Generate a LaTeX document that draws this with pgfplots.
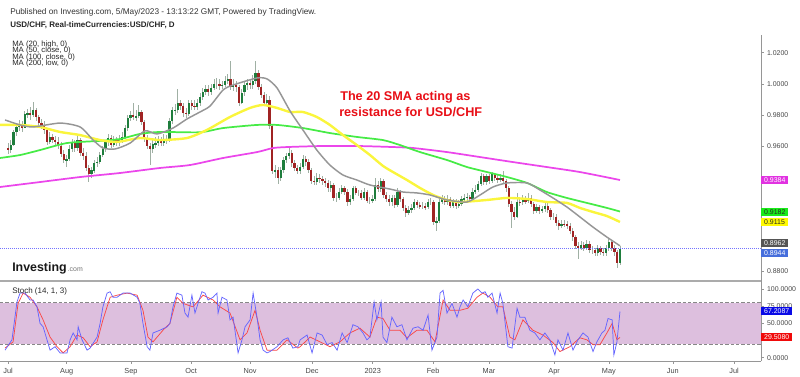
\documentclass[border=0pt]{standalone}
\usepackage{pgfplots}
\pgfplotsset{compat=1.18}
\usepackage{pgfplotstable}
\usepackage{fontspec}
\setmainfont{Liberation Sans}
\definecolor{upg}{RGB}{30,125,60}
\definecolor{dnr}{RGB}{160,35,35}
\definecolor{wick}{RGB}{160,176,164}
\definecolor{maGray}{RGB}{150,150,150}
\definecolor{maYel}{RGB}{250,245,60}
\definecolor{maGrn}{RGB}{70,235,70}
\definecolor{maMag}{RGB}{235,70,235}
\definecolor{band}{RGB}{221,191,222}
\definecolor{kblue}{RGB}{100,100,255}
\definecolor{dred}{RGB}{250,70,70}
\definecolor{anno}{RGB}{232,14,22}
\definecolor{axgray}{RGB}{150,150,150}
\definecolor{txtgray}{RGB}{70,70,70}

\pgfplotstableread{
x o h l c
0 0.9590 0.9620 0.9550 0.9575
1 0.9575 0.9640 0.9560 0.9610
2 0.9610 0.9705 0.9600 0.9690
3 0.9690 0.9745 0.9665 0.9725
4 0.9725 0.9770 0.9700 0.9745
5 0.9745 0.9765 0.9695 0.9720
6 0.9720 0.9825 0.9715 0.9805
7 0.9805 0.9840 0.9780 0.9815
8 0.9815 0.9850 0.9770 0.9800
9 0.9800 0.9886 0.9785 0.9830
10 0.9830 0.9845 0.9765 0.9785
11 0.9785 0.9800 0.9725 0.9750
12 0.9750 0.9775 0.9710 0.9735
13 0.9735 0.9760 0.9680 0.9705
14 0.9705 0.9720 0.9610 0.9630
15 0.9630 0.9690 0.9615 0.9660
16 0.9660 0.9680 0.9620 0.9640
17 0.9640 0.9665 0.9605 0.9630
18 0.9630 0.9660 0.9580 0.9600
19 0.9600 0.9625 0.9530 0.9550
20 0.9550 0.9575 0.9495 0.9510
21 0.9510 0.9545 0.9470 0.9520
22 0.9520 0.9610 0.9505 0.9585
23 0.9585 0.9650 0.9565 0.9620
24 0.9620 0.9640 0.9565 0.9590
25 0.9590 0.9665 0.9570 0.9640
26 0.9640 0.9655 0.9540 0.9560
27 0.9560 0.9590 0.9515 0.9540
28 0.9540 0.9565 0.9440 0.9460
29 0.9460 0.9480 0.9370 0.9425
30 0.9425 0.9470 0.9400 0.9445
31 0.9445 0.9510 0.9430 0.9495
32 0.9495 0.9530 0.9470 0.9500
33 0.9500 0.9565 0.9485 0.9545
34 0.9545 0.9600 0.9530 0.9580
35 0.9580 0.9640 0.9565 0.9625
36 0.9625 0.9680 0.9605 0.9655
37 0.9655 0.9670 0.9590 0.9610
38 0.9610 0.9665 0.9595 0.9645
39 0.9645 0.9660 0.9600 0.9620
40 0.9620 0.9675 0.9605 0.9640
41 0.9640 0.9690 0.9620 0.9660
42 0.9660 0.9735 0.9645 0.9715
43 0.9715 0.9800 0.9700 0.9780
44 0.9780 0.9825 0.9760 0.9800
45 0.9800 0.9880 0.9770 0.9785
46 0.9785 0.9830 0.9760 0.9795
47 0.9795 0.9866 0.9780 0.9820
48 0.9820 0.9835 0.9735 0.9755
49 0.9755 0.9770 0.9625 0.9650
50 0.9650 0.9670 0.9580 0.9600
51 0.9600 0.9620 0.9480 0.9580
52 0.9580 0.9640 0.9555 0.9615
53 0.9615 0.9660 0.9590 0.9620
54 0.9620 0.9665 0.9605 0.9640
55 0.9640 0.9660 0.9600 0.9620
56 0.9620 0.9680 0.9605 0.9650
57 0.9650 0.9670 0.9615 0.9640
58 0.9640 0.9780 0.9630 0.9760
59 0.9760 0.9850 0.9740 0.9830
60 0.9830 0.9870 0.9800 0.9835
61 0.9835 0.9966 0.9815 0.9875
62 0.9875 0.9900 0.9830 0.9860
63 0.9860 0.9880 0.9790 0.9815
64 0.9815 0.9845 0.9780 0.9810
65 0.9810 0.9895 0.9795 0.9875
66 0.9875 0.9900 0.9835 0.9860
67 0.9860 0.9895 0.9830 0.9855
68 0.9855 0.9905 0.9835 0.9880
69 0.9880 0.9940 0.9860 0.9915
70 0.9915 0.9975 0.9900 0.9950
71 0.9950 0.9990 0.9930 0.9965
72 0.9965 0.9995 0.9925 0.9950
73 0.9950 1.0000 0.9930 0.9975
74 0.9975 1.0030 0.9960 1.0000
75 1.0000 1.0040 0.9970 1.0000
76 1.0000 1.0030 0.9960 0.9985
77 0.9985 1.0020 0.9965 0.9995
78 0.9995 1.0050 0.9980 1.0020
79 1.0020 1.0065 1.0000 1.0030
80 1.0030 1.0148 0.9960 0.9980
81 0.9980 1.0030 0.9955 0.9995
82 0.9995 1.0020 0.9950 0.9980
83 0.9980 0.9995 0.9860 0.9880
84 0.9880 0.9965 0.9870 0.9945
85 0.9945 1.0010 0.9925 0.9990
86 0.9990 1.0030 0.9960 1.0005
87 1.0005 1.0030 0.9970 0.9990
88 0.9990 1.0060 0.9970 1.0020
89 1.0020 1.0148 1.0000 1.0070
90 1.0070 1.0090 0.9960 0.9980
91 0.9980 1.0000 0.9910 0.9930
92 0.9930 0.9950 0.9860 0.9880
93 0.9880 0.9935 0.9860 0.9900
94 0.9900 0.9925 0.9710 0.9730
95 0.9730 0.9745 0.9420 0.9440
96 0.9440 0.9480 0.9400 0.9450
97 0.9450 0.9470 0.9356 0.9400
98 0.9400 0.9470 0.9380 0.9450
99 0.9450 0.9530 0.9430 0.9510
100 0.9510 0.9560 0.9490 0.9540
101 0.9540 0.9598 0.9520 0.9560
102 0.9560 0.9575 0.9470 0.9490
103 0.9490 0.9510 0.9440 0.9460
104 0.9460 0.9480 0.9420 0.9440
105 0.9440 0.9490 0.9420 0.9470
106 0.9470 0.9545 0.9455 0.9520
107 0.9520 0.9535 0.9475 0.9500
108 0.9500 0.9520 0.9430 0.9450
109 0.9450 0.9460 0.9360 0.9380
110 0.9380 0.9410 0.9350 0.9370
111 0.9370 0.9430 0.9355 0.9400
112 0.9400 0.9420 0.9365 0.9390
113 0.9390 0.9410 0.9350 0.9375
114 0.9375 0.9400 0.9340 0.9365
115 0.9365 0.9385 0.9310 0.9330
116 0.9330 0.9375 0.9310 0.9350
117 0.9350 0.9365 0.9250 0.9270
118 0.9270 0.9300 0.9245 0.9270
119 0.9270 0.9335 0.9255 0.9310
120 0.9310 0.9350 0.9295 0.9330
121 0.9330 0.9345 0.9290 0.9310
122 0.9310 0.9325 0.9220 0.9240
123 0.9240 0.9285 0.9225 0.9260
124 0.9260 0.9345 0.9250 0.9330
125 0.9330 0.9345 0.9285 0.9300
126 0.9300 0.9320 0.9280 0.9300
127 0.9300 0.9320 0.9255 0.9270
128 0.9270 0.9330 0.9255 0.9310
129 0.9310 0.9320 0.9235 0.9250
130 0.9250 0.9275 0.9230 0.9250
131 0.9250 0.9285 0.9235 0.9260
132 0.9260 0.9397 0.9250 0.9355
133 0.9355 0.9380 0.9305 0.9325
134 0.9325 0.9395 0.9305 0.9380
135 0.9380 0.9390 0.9270 0.9290
136 0.9290 0.9310 0.9240 0.9260
137 0.9260 0.9285 0.9220 0.9240
138 0.9240 0.9290 0.9220 0.9270
139 0.9270 0.9285 0.9205 0.9225
140 0.9225 0.9330 0.9210 0.9310
141 0.9310 0.9320 0.9240 0.9260
142 0.9260 0.9275 0.9185 0.9205
143 0.9205 0.9225 0.9150 0.9175
144 0.9175 0.9215 0.9160 0.9190
145 0.9190 0.9230 0.9170 0.9205
146 0.9205 0.9260 0.9190 0.9240
147 0.9240 0.9255 0.9205 0.9225
148 0.9225 0.9245 0.9195 0.9215
149 0.9215 0.9240 0.9195 0.9215
150 0.9215 0.9235 0.9190 0.9210
151 0.9210 0.9265 0.9195 0.9245
152 0.9245 0.9270 0.9225 0.9245
153 0.9245 0.9255 0.9095 0.9115
154 0.9115 0.9150 0.9059 0.9120
155 0.9120 0.9260 0.9110 0.9245
156 0.9245 0.9285 0.9230 0.9260
157 0.9260 0.9280 0.9225 0.9240
158 0.9240 0.9285 0.9225 0.9265
159 0.9265 0.9275 0.9205 0.9220
160 0.9220 0.9265 0.9205 0.9245
161 0.9245 0.9260 0.9200 0.9220
162 0.9220 0.9255 0.9205 0.9230
163 0.9230 0.9280 0.9215 0.9260
164 0.9260 0.9295 0.9245 0.9270
165 0.9270 0.9300 0.9250 0.9275
166 0.9275 0.9290 0.9240 0.9260
167 0.9260 0.9330 0.9250 0.9310
168 0.9310 0.9350 0.9295 0.9320
169 0.9320 0.9380 0.9305 0.9360
170 0.9360 0.9430 0.9345 0.9410
171 0.9410 0.9420 0.9350 0.9370
172 0.9370 0.9425 0.9355 0.9410
173 0.9410 0.9425 0.9360 0.9380
174 0.9380 0.9435 0.9365 0.9425
175 0.9425 0.9430 0.9375 0.9395
176 0.9395 0.9415 0.9365 0.9385
177 0.9385 0.9425 0.9370 0.9400
178 0.9400 0.9440 0.9360 0.9375
179 0.9375 0.9390 0.9310 0.9335
180 0.9335 0.9345 0.9210 0.9230
181 0.9230 0.9250 0.9075 0.9180
182 0.9180 0.9210 0.9130 0.9150
183 0.9150 0.9300 0.9140 0.9245
184 0.9245 0.9270 0.9215 0.9240
185 0.9240 0.9290 0.9225 0.9255
186 0.9255 0.9280 0.9230 0.9250
187 0.9250 0.9300 0.9235 0.9270
188 0.9270 0.9285 0.9210 0.9230
189 0.9230 0.9245 0.9165 0.9185
190 0.9185 0.9230 0.9170 0.9210
191 0.9210 0.9225 0.9165 0.9185
192 0.9185 0.9220 0.9170 0.9195
193 0.9195 0.9240 0.9180 0.9220
194 0.9220 0.9235 0.9175 0.9190
195 0.9190 0.9205 0.9130 0.9150
196 0.9150 0.9175 0.9125 0.9150
197 0.9150 0.9165 0.9090 0.9110
198 0.9110 0.9130 0.9065 0.9090
199 0.9090 0.9130 0.9075 0.9105
200 0.9105 0.9125 0.9080 0.9100
201 0.9100 0.9120 0.9070 0.9090
202 0.9090 0.9110 0.9040 0.9060
203 0.9060 0.9075 0.8995 0.9020
204 0.9020 0.9030 0.8940 0.8960
205 0.8960 0.8985 0.8880 0.8950
206 0.8950 0.8990 0.8935 0.8965
207 0.8965 0.8985 0.8930 0.8950
208 0.8950 0.9000 0.8935 0.8975
209 0.8975 0.8990 0.8915 0.8935
210 0.8935 0.8960 0.8910 0.8935
211 0.8935 0.8950 0.8895 0.8915
212 0.8915 0.8965 0.8900 0.8945
213 0.8945 0.8960 0.8905 0.8925
214 0.8925 0.8945 0.8895 0.8915
215 0.8915 0.8970 0.8900 0.8945
216 0.8945 0.9010 0.8930 0.8985
217 0.8985 0.9000 0.8930 0.8945
218 0.8945 0.8965 0.8900 0.8920
219 0.8920 0.8935 0.8820 0.8850
220 0.8850 0.8960 0.8840 0.8944
}\candles

\begin{document}
\begin{tikzpicture}
\useasboundingbox (0pt,0pt) rectangle (600pt,-282pt);

% ---------------- main price panel ----------------
\begin{axis}[
  at={(0pt,-26.25pt)}, anchor=north west, scale only axis,
  width=570.75pt, height=184.5pt,
  xmin=-2.9, xmax=270.7, ymin=0.87365, ymax=1.03135,
  axis x line=none, axis y line*=right,
  axis line style={axgray, line width=0.6pt},
  ytick={0.88,0.96,0.98,1.00,1.02},
  yticklabel={\pgfmathprintnumber[fixed,fixed zerofill,precision=4,assume math mode=true]{\tick}},
  yticklabel style={font=\fontsize{5.2}{6}\selectfont, text=txtgray, xshift=-1pt},
  tick align=outside, major tick length=2pt, tick style={axgray, line width=0.4pt},
]
% wicks
\addplot[draw=none, no markers, error bars/.cd, y dir=both, y explicit, error mark=none,
  error bar style={draw=wick, line width=0.55pt}]
  table[x=x, y expr={(\thisrow{h}+\thisrow{l})/2}, y error expr={(\thisrow{h}-\thisrow{l})/2}] {\candles};
% up bodies
\addplot[draw=none, no markers, restrict expr to domain={\thisrow{c}-\thisrow{o}}{0:1},
  error bars/.cd, y dir=both, y explicit, error mark=none,
  error bar style={draw=upg, line width=1.7pt}]
  table[x=x, y expr={(\thisrow{o}+\thisrow{c})/2}, y error expr={abs(\thisrow{c}-\thisrow{o})/2}] {\candles};
% down bodies
\addplot[draw=none, no markers, restrict expr to domain={\thisrow{c}-\thisrow{o}}{-1:-0.00001},
  error bars/.cd, y dir=both, y explicit, error mark=none,
  error bar style={draw=dnr, line width=1.7pt}]
  table[x=x, y expr={(\thisrow{o}+\thisrow{c})/2}, y error expr={abs(\thisrow{c}-\thisrow{o})/2}] {\candles};

% MA 200 (low)
\addplot[maMag, line width=1.3pt, smooth, tension=0.4] coordinates {
(-2.9,0.9339) (11.5,0.9371) (25.9,0.9403) (40.3,0.9429) (54.6,0.9461) (65.4,0.9480)
(77.3,0.9525) (89.5,0.9563) (95.3,0.9589) (101.4,0.9596) (113.2,0.9602) (125.4,0.9602)
(137.3,0.9596) (145.6,0.9589) (157.8,0.9563) (169.7,0.9531) (181.5,0.9499) (193.7,0.9467)
(205.6,0.9435) (220,0.9384)};
% MA 100 (close)
\addplot[maGrn, line width=1.3pt, smooth, tension=0.4] coordinates {
(-2.9,0.9525) (4.3,0.9544) (11.5,0.9576) (21.2,0.9621) (33.1,0.9635) (40.3,0.9647)
(47.4,0.9679) (54.6,0.9692) (69,0.9690) (77.3,0.9717) (89.5,0.9737) (96.7,0.9737)
(106,0.9717) (115.7,0.9685) (125.4,0.9660) (134.8,0.9640) (140.9,0.9608) (148.1,0.9563)
(157.8,0.9512) (165,0.9467) (172.2,0.9435) (179.4,0.9403) (186.6,0.9365) (193.7,0.9307)
(200.9,0.9269) (208.1,0.9237) (215.3,0.9205) (220,0.9182)};
% MA 50 (close)
\addplot[maYel, line width=1.8pt, smooth, tension=0.4] coordinates {
(-2.9,0.9737) (4.3,0.9737) (11.5,0.9724) (18.7,0.9692) (25.9,0.9672) (33.1,0.9640)
(39.2,0.9628) (47.4,0.9653) (54.6,0.9640) (64.3,0.9653) (71.5,0.9705) (79.8,0.9788)
(87,0.9846) (91.7,0.9865) (96.7,0.9846) (101.4,0.9820) (106,0.9820) (111,0.9788)
(115.7,0.9737) (120.4,0.9672) (125.4,0.9608) (130.1,0.9544) (134.8,0.9474) (138.4,0.9435)
(143.4,0.9384) (148.1,0.9333) (152.8,0.9288) (157.8,0.9256) (162.5,0.9243) (172.2,0.9256)
(179.4,0.9269) (186.6,0.9262) (193.7,0.9243) (200.9,0.9237) (205.6,0.9205) (210.3,0.9179)
(215.3,0.9153) (220,0.9115)};
% MA 20 (high)
\addplot[maGray, line width=1.1pt, smooth, tension=0.4] coordinates {
(-1.1,0.9769) (4.3,0.9737) (9,0.9724) (18.7,0.9749) (25.9,0.9724) (30.6,0.9640)
(34.1,0.9589) (38.5,0.9583) (43.9,0.9621) (49.2,0.9699) (53.6,0.9679) (59.3,0.9717)
(64.3,0.9775) (69,0.9820) (72.6,0.9858) (77.3,0.9961) (80.9,0.9993) (89.5,1.0038)
(93.1,1.0032) (96.7,0.9974) (101.4,0.9826) (106,0.9705) (111,0.9576) (115.7,0.9480)
(120.4,0.9416) (125.4,0.9384) (130.1,0.9352) (137.3,0.9326) (142,0.9307) (147,0.9301)
(151.7,0.9288) (157.8,0.9256) (165,0.9243) (169.7,0.9288) (174.3,0.9339) (179.4,0.9365)
(186.6,0.9365) (191.2,0.9320) (195.9,0.9269) (200.9,0.9211) (205.6,0.9147) (210.3,0.9082)
(215.3,0.9018) (220,0.8962)};
% current price line
\addplot[densely dotted, color=blue!55, line width=0.5pt] coordinates {(-2.9,0.8944) (270.7,0.8944)};
\end{axis}

% ---------------- stochastic panel ----------------
\begin{axis}[
  at={(0pt,-210.75pt)}, anchor=north west, scale only axis,
  width=570.75pt, height=60pt,
  xmin=-2.9, xmax=270.7, ymin=-4.8, ymax=111.6,
  axis x line*=bottom, axis y line*=right,
  axis line style={axgray, line width=0.6pt},
  xtick={0,21.1,44.2,65.8,87,109.3,131.1,152.8,172.9,196.3,216,239,261},
  xticklabels={Jul,Aug,Sep,Oct,Nov,Dec,2023,Feb,Mar,Apr,May,Jun,Jul},
  xticklabel style={font=\fontsize{5.5}{6}\selectfont, text=txtgray},
  ytick={0,50,75,100},
  yticklabel={\pgfmathprintnumber[fixed,fixed zerofill,precision=4,assume math mode=true]{\tick}},
  yticklabel style={font=\fontsize{5.2}{6}\selectfont, text=txtgray, xshift=-1pt},
  tick align=outside, major tick length=2pt, tick style={axgray, line width=0.4pt},
]
\addplot[fill=band, draw=none] coordinates {(-2.9,20) (270.7,20) (270.7,80) (-2.9,80)} -- cycle;
\addplot[axgray!90!black, dash pattern=on 2.5pt off 1.5pt, line width=0.5pt] coordinates {(-2.9,80) (270.7,80)};
\addplot[axgray!90!black, dash pattern=on 2.5pt off 1.5pt, line width=0.5pt] coordinates {(-2.9,20) (270.7,20)};
% %D
\addplot[dred, line width=0.55pt] coordinates {
(-1.1,14) (1.8,23) (3.6,79) (5.4,94) (7.9,88) (10.4,74) (12.6,55) (15.1,30) (17.6,16) (19.8,7)
(22.3,16) (24.8,33) (27.0,29) (29.5,16) (32.0,23) (34.1,55) (36.7,88) (39.2,91) (42.8,94) (46.4,91)
(48.5,69) (50.3,30) (52.1,23) (55.7,40) (58.2,50) (60.7,88) (62.9,79) (66.5,74) (70.1,91) (73.7,84)
(76.2,74) (79.8,65) (83.4,26) (85.9,36) (88.8,69) (90.6,40) (93.1,11) (96.7,11) (100.3,26) (104.2,14)
(105.0,16) (108.6,30) (112.2,23) (115.7,16) (119.3,23) (122.9,36) (126.5,43) (130.1,30) (132.6,59) (134.8,57)
(137.3,40) (140.9,40) (143.4,29) (147.0,40) (150.6,40) (153.5,23) (156.4,84) (158.9,69) (162.5,69) (165.3,72)
(168.6,88) (170.7,94) (173.3,88) (176.1,74) (177.9,74) (180.4,30) (182.2,26) (185.1,55) (188.7,40) (192.3,33)
(195.9,22) (198.4,9) (202.0,16) (205.6,29) (208.1,26) (210.3,19) (212.8,19) (215.3,36) (217.2,50) (218.9,26)
(220,29.5)};
% %K
\addplot[kblue, line width=0.55pt] coordinates {
(-1.1,11) (1.4,26) (3.2,81) (4.3,94) (6.1,94) (7.9,84) (9.0,84) (10.4,74) (11.5,50) (12.6,45)
(14.0,26) (15.1,11) (16.9,16) (18.7,7) (21.2,7) (22.3,26) (23.4,36) (24.8,26) (25.2,45) (26.6,26)
(28.4,11) (29.5,14) (32.0,30) (33.1,50) (34.1,74) (35.6,94) (36.7,96) (37.7,88) (39.2,88) (41.3,94)
(43.9,94) (46.4,88) (47.4,79) (48.5,50) (50.0,16) (51.0,11) (52.1,36) (54.6,40) (57.2,45) (58.2,50)
(59.3,74) (60.7,94) (62.5,91) (63.6,65) (64.7,59) (66.1,91) (67.2,65) (68.3,79) (69.7,96) (70.8,94)
(71.9,84) (73.7,88) (75.1,94) (75.5,65) (76.9,88) (78.7,84) (79.8,55) (80.9,59) (82.7,7) (84.1,26)
(85.2,45) (87.0,55) (88.1,94) (89.5,59) (90.6,26) (91.7,11) (93.1,7) (94.2,9) (96.7,16) (98.9,26)
(100.6,29) (102.4,14) (104.2,16) (105.0,26) (107.5,33) (109.3,7) (111.1,36) (112.9,33) (114.7,19) (116.5,22)
(118.3,11) (120.1,36) (121.9,22) (124.0,48) (125.8,45) (127.6,36) (129.0,26) (130.1,30) (131.6,81) (132.6,55)
(134.1,81) (134.8,30) (136.2,22) (138.0,59) (139.8,45) (141.6,48) (143.4,26) (145.6,43) (147.4,45) (149.2,40)
(151.0,62) (152.4,11) (154.2,30) (155.3,94) (156.4,98) (157.8,65) (159.6,79) (161.4,59) (162.5,74) (163.6,84)
(165.3,74) (167.1,94) (168.9,100) (170.4,94) (171.5,96) (172.5,88) (174.0,94) (175.8,65) (176.9,94) (177.9,79)
(179.7,16) (181.2,14) (183.0,72) (184.0,59) (185.8,59) (187.6,40) (189.4,36) (191.2,26) (193.0,36) (194.8,26)
(196.6,4) (197.7,26) (199.5,11) (201.3,36) (203.1,11) (204.9,26) (206.7,36) (208.5,30) (210.3,9) (211.7,23)
(213.5,36) (214.6,40) (215.7,57) (217.2,55) (217.8,4) (218.9,23) (220,67.2)};
\end{axis}

% ---------------- separators, texts, labels (pixel coordinates) ----------------
\begin{scope}[x=0.75pt, y=-0.75pt]
\draw[axgray!80, line width=0.9pt] (0,281) -- (761,281);
\node[anchor=base west, inner sep=0pt, font=\fontsize{6.2}{7}\selectfont, text=black!80] at (10,14)
  {Published on Investing.com, 5/May/2023 - 13:13:22 GMT, Powered by TradingView.};
\node[anchor=base west, inner sep=0pt, font=\fontsize{6}{7}\selectfont\bfseries, text=black!85] at (10,27.5)
  {USD/CHF, Real-timeCurrencies:USD/CHF, D};
\node[anchor=base west, inner sep=0pt, font=\fontsize{5.8}{6}\selectfont, text=black!85] at (12,46) {MA (20, high, 0)};
\node[anchor=base west, inner sep=0pt, font=\fontsize{5.8}{6}\selectfont, text=black!85] at (12,52.5) {MA (50, close, 0)};
\node[anchor=base west, inner sep=0pt, font=\fontsize{5.8}{6}\selectfont, text=black!85] at (12,59) {MA (100, close, 0)};
\node[anchor=base west, inner sep=0pt, font=\fontsize{5.8}{6}\selectfont, text=black!85] at (12,65.5) {MA (200, low, 0)};
\node[anchor=base west, inner sep=0pt, font=\fontsize{9.5}{11}\selectfont\bfseries, text=anno] at (340,100.5) {The 20 SMA acting as};
\node[anchor=base west, inner sep=0pt, font=\fontsize{9.5}{11}\selectfont\bfseries, text=anno] at (339,116.5) {resistance for USD/CHF};
\node[anchor=base west, inner sep=0pt, font=\fontsize{9.3}{11}\selectfont\bfseries, text=black!90] at (12,271.5) {Investing};
\node[anchor=base west, inner sep=0pt, font=\fontsize{5.2}{6}\selectfont, text=black!55] at (67.5,271.5) {.com};
\node[anchor=base west, inner sep=0pt, font=\fontsize{6}{7}\selectfont, text=black!85] at (12,293) {Stoch (14, 1, 3)};
% price labels
\tikzset{plabel/.style={anchor=west, inner xsep=2.2pt, inner ysep=1.2pt, font=\fontsize{5.2}{6}\selectfont}}
\node[plabel, fill={rgb,255:red,225;green,50;blue,225}, text=white] at (761,180.3) {0.9384};
\node[plabel, fill={rgb,255:red,25;green,235;blue,25}, text=black!85] at (761,211.7) {0.9182};
\node[plabel, fill={rgb,255:red,255;green,250;blue,0}, text=black!85] at (761,222) {0.9115};
\node[plabel, fill={rgb,255:red,85;green,85;blue,85}, text=white] at (761,242.7) {0.8962};
\node[plabel, fill={rgb,255:red,70;green,110;blue,220}, text=white] at (761,253.3) {0.8944};
\node[plabel, fill={rgb,255:red,10;green,10;blue,230}, text=white] at (761,311) {67.2087};
\node[plabel, fill={rgb,255:red,240;green,10;blue,10}, text=white] at (761,337.3) {29.5080};
\end{scope}
\end{tikzpicture}
\end{document}
